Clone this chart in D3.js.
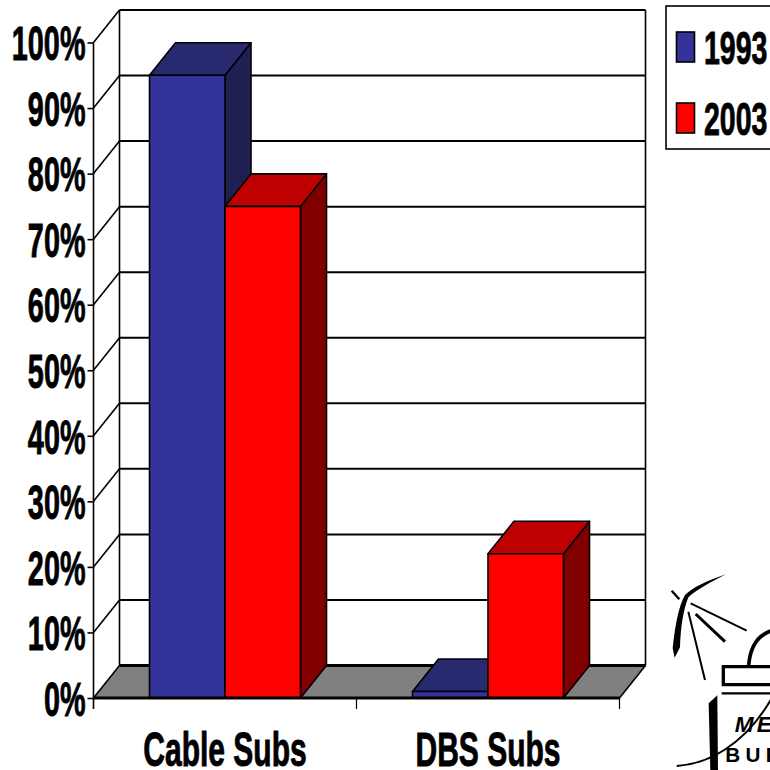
<!DOCTYPE html>
<html>
<head>
<meta charset="utf-8">
<script src="https://cdn.jsdelivr.net/npm/d3@7"></script>
<style>
  html, body { margin: 0; padding: 0; background: #fff; overflow: hidden; }
  svg { display: block; }
  text { font-family: "Liberation Sans", Arial, sans-serif; font-weight: bold; fill: #000; }
</style>
</head>
<body>
<div id="chart"></div>
<script>
// values
const categories = ["Cable Subs", "DBS Subs"];
const seriesNames = ["1993", "2003"];
const values1993 = [95, 1];
const values2003 = [75, 22];
const yTicks = [0, 10, 20, 30, 40, 50, 60, 70, 80, 90, 100];

const frontColors = { "1993": "#333399", "2003": "#ff0000" };
const topColors = { "1993": "#29296f", "2003": "#bf0000" };
const sideColors = { "1993": "#1f1f52", "2003": "#800000" };

const svg = d3.select("#chart").append("svg")
    .attr("width", 770)
    .attr("height", 770);

// scales for the front plane of the 3d box
const y = d3.scaleLinear().domain([0, 100]).range([698, 42.5]);
const x = d3.scaleBand().domain(categories).range([93.5, 619.5]);
const barWidth = 75.5;
const xSeries = d3.scaleBand().domain(seriesNames)
    .range([-barWidth, barWidth]);

// depth offset of the 3d box
const dx = 26;
const dy = -32.5;

// floor
svg.append("path")
    .attr("d", `M${x.range()[0]},${y(0)}L${x.range()[0] + dx},${y(0) + dy}L${x.range()[1] + dx},${y(0) + dy}L${x.range()[1]},${y(0)}Z`)
    .attr("fill", "#808080");

// back wall gridlines and the diagonals on the left wall
const grid = svg.append("g").attr("stroke", "#000").attr("fill", "none");
yTicks.forEach(t => {
    grid.append("line")
        .attr("x1", x.range()[0] + dx).attr("x2", x.range()[1] + dx)
        .attr("y1", y(t) + dy).attr("y2", y(t) + dy)
        .attr("stroke-width", t === 0 ? 3 : 2);
    grid.append("line")
        .attr("x1", x.range()[0]).attr("x2", x.range()[0] + dx)
        .attr("y1", y(t)).attr("y2", y(t) + dy)
        .attr("stroke-width", 1.6);
});
grid.append("line")
    .attr("x1", x.range()[0] + dx).attr("x2", x.range()[0] + dx)
    .attr("y1", y(100) + dy).attr("y2", y(0) + dy)
    .attr("stroke-width", 1.6);
grid.append("line")
    .attr("x1", x.range()[1] + dx).attr("x2", x.range()[1] + dx)
    .attr("y1", y(100) + dy).attr("y2", y(0) + dy)
    .attr("stroke-width", 1.6);
grid.append("line")
    .attr("x1", x.range()[1]).attr("x2", x.range()[1] + dx)
    .attr("y1", y(0)).attr("y2", y(0) + dy)
    .attr("stroke-width", 1.6);

// bars
const valuesBySeries = { "1993": values1993, "2003": values2003 };
categories.forEach((cat, i) => {
    seriesNames.forEach(name => {
        const v = valuesBySeries[name][i];
        const x0 = x(cat) + x.bandwidth() / 2 + xSeries(name);
        const x1 = x0 + barWidth;
        const bar = svg.append("g").attr("stroke", "#000").attr("stroke-width", 1.6).attr("stroke-linejoin", "round");
        bar.append("path")
            .attr("d", `M${x1},${y(v)}L${x1 + dx},${y(v) + dy}L${x1 + dx},${y(0) + dy}L${x1},${y(0)}Z`)
            .attr("fill", sideColors[name]);
        bar.append("path")
            .attr("d", `M${x0},${y(v)}L${x0 + dx},${y(v) + dy}L${x1 + dx},${y(v) + dy}L${x1},${y(v)}Z`)
            .attr("fill", topColors[name]);
        bar.append("rect")
            .attr("x", x0).attr("y", y(v))
            .attr("width", barWidth).attr("height", y(0) - y(v))
            .attr("fill", frontColors[name]);
    });
});

// left axis
const yAxis = svg.append("g")
    .attr("transform", `translate(${x.range()[0]},0)`)
    .call(d3.axisLeft(y).tickValues(yTicks).tickFormat(d => d + "%").tickSize(6).tickPadding(0));
yAxis.select(".domain").remove();
yAxis.selectAll(".tick line").attr("stroke", "#000").attr("stroke-width", 1.6);
yAxis.selectAll(".tick text")
    .attr("x", 0).attr("dy", "0.36em")
    .attr("font-size", 48)
    .attr("text-anchor", "end")
    .attr("transform", "translate(-8,0) scale(0.6,1)")
    .attr("stroke", "#000").attr("stroke-width", 0.9);

// front left edge, bottom edge and its ticks
const frontAxis = svg.append("g").attr("stroke", "#000");
frontAxis.append("line")
    .attr("x1", x.range()[0]).attr("x2", x.range()[0])
    .attr("y1", y(100)).attr("y2", y(0) + 11)
    .attr("stroke-width", 1.6);
frontAxis.append("line")
    .attr("x1", x.range()[0]).attr("x2", x.range()[1])
    .attr("y1", y(0)).attr("y2", y(0))
    .attr("stroke-width", 3);
[x.range()[0] + x.step(), x.range()[1]].forEach(px => {
    frontAxis.append("line")
        .attr("x1", px).attr("x2", px)
        .attr("y1", y(0)).attr("y2", y(0) + 11)
        .attr("stroke-width", 1.2);
});

// category labels
svg.append("g").selectAll("text")
    .data(categories)
    .join("text")
    .attr("text-anchor", "middle")
    .attr("font-size", 48)
    .attr("transform", d => `translate(${x(d) + x.bandwidth() / 2},766) scale(0.625,1)`)
    .attr("stroke", "#000").attr("stroke-width", 0.9)
    .text(d => d);

// legend, runs off the right edge of the page
const legend = svg.append("g");
legend.append("rect")
    .attr("x", 666).attr("y", 6)
    .attr("width", 130).attr("height", 143)
    .attr("fill", "#fff").attr("stroke", "#000").attr("stroke-width", 1.6);
seriesNames.forEach((name, i) => {
    const top = 32 + i * 71;
    legend.append("rect")
        .attr("x", 676.5).attr("y", top)
        .attr("width", 18).attr("height", 30)
        .attr("fill", frontColors[name])
        .attr("stroke", "#000").attr("stroke-width", 1.6);
    legend.append("text")
        .attr("font-size", 46)
        .attr("transform", `translate(704,${top + 32}) scale(0.62,1)`)
        .attr("stroke", "#000").attr("stroke-width", 0.9)
        .text(name);
});

// logo in the bottom right corner, traced in zoomed crop units
const logo = svg.append("g").attr("transform", "translate(650,560) scale(0.3333)");
logo.append("path")
    .attr("d", "M228,43C170,62 125,85 105,105C85,140 75,200 68,265L74,293L90,262C92,200 100,150 115,112C140,88 190,62 228,43Z")
    .attr("fill", "#000");
logo.append("g").attr("stroke", "#000").attr("fill", "none")
    .call(g => {
        g.append("path").attr("d", "M65,92L88,118").attr("stroke-width", 7);
        g.append("path").attr("d", "M122,130L290,212").attr("stroke-width", 6);
        g.append("path").attr("d", "M137,162L225,245").attr("stroke-width", 9);
        g.append("path").attr("d", "M115,155L165,360").attr("stroke-width", 6);
        g.append("path").attr("d", "M296,318C300,260 325,225 365,212").attr("stroke-width", 11);
        g.append("path").attr("d", "M365,320L220,320L220,374L365,374").attr("stroke-width", 10);
        g.append("path").attr("d", "M215,400L365,400").attr("stroke-width", 7);
        g.append("path").attr("d", "M80,618C170,612 280,560 362,420").attr("stroke-width", 6);
    });
logo.append("path")
    .attr("d", "M176,430L202,406L204,632L181,632Z")
    .attr("fill", "#000");
logo.append("text")
    .attr("x", 254).attr("y", 516)
    .attr("font-size", 68).attr("font-style", "italic").attr("font-weight", "normal")
    .attr("letter-spacing", 10)
    .text("MEDIA");
logo.append("text")
    .attr("x", 226).attr("y", 606)
    .attr("font-size", 62).attr("font-weight", "normal")
    .attr("letter-spacing", 16)
    .text("BUREAU");
</script>
</body>
</html>
